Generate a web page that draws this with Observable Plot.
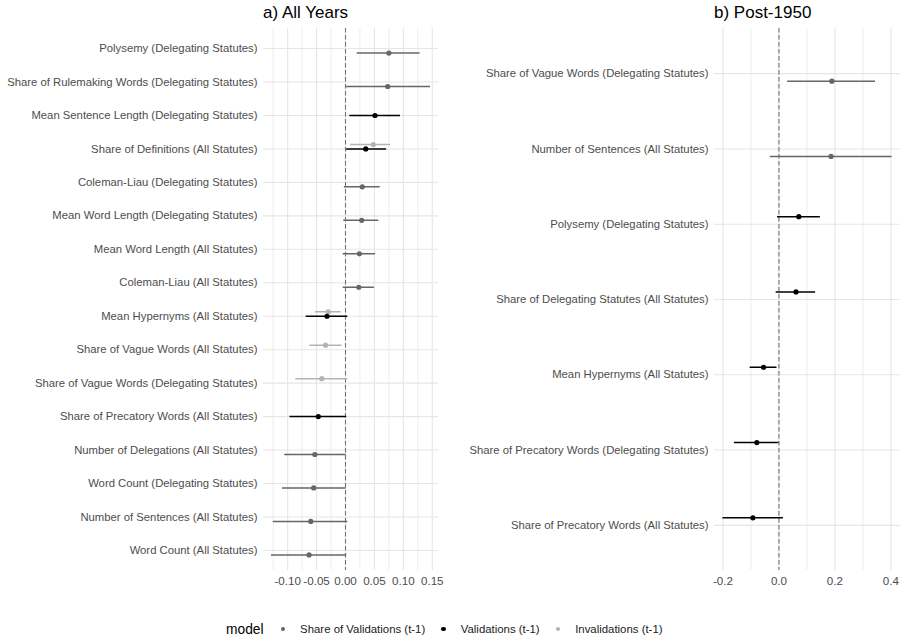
<!DOCTYPE html>
<html><head><meta charset="utf-8">
<script src="https://cdn.jsdelivr.net/npm/d3@7"></script>
<script src="https://cdn.jsdelivr.net/npm/@observablehq/plot@0.6"></script>
<style>
body{margin:0;background:#fff;font-family:"Liberation Sans",Arial,Helvetica,sans-serif;}
#wrap{position:relative;width:907px;height:642px;overflow:hidden;background:#fff;}
.title{position:absolute;top:4px;font-size:17px;line-height:1;color:#000;white-space:nowrap;}
.panel{position:absolute;top:24px;}
#legend{position:absolute;top:618px;left:226px;height:22px;display:flex;align-items:center;font-size:11.4px;color:#1a1a1a;white-space:nowrap;}
#legend .lt{font-size:13.8px;color:#000;margin-right:17px;}
#legend .dot{width:4.5px;height:4.5px;border-radius:50%;margin-right:15px;}
#legend .lab{margin-right:16px;}
</style></head>
<body><div id="wrap"></div>
<script>
// ---- models / legend ----
const modelNames = ["Share of Validations (t-1)", "Validations (t-1)", "Invalidations (t-1)"];
const modelColors = ["#666666", "#000000", "#b3b3b3"];
const legendTitle = "model";

// ---- panel a) All Years ----
const titleA = "a) All Years";
const catsA = [
  "Polysemy (Delegating Statutes)",
  "Share of Rulemaking Words (Delegating Statutes)",
  "Mean Sentence Length (Delegating Statutes)",
  "Share of Definitions (All Statutes)",
  "Coleman-Liau (Delegating Statutes)",
  "Mean Word Length (Delegating Statutes)",
  "Mean Word Length (All Statutes)",
  "Coleman-Liau (All Statutes)",
  "Mean Hypernyms (All Statutes)",
  "Share of Vague Words (All Statutes)",
  "Share of Vague Words (Delegating Statutes)",
  "Share of Precatory Words (All Statutes)",
  "Number of Delegations (All Statutes)",
  "Word Count (Delegating Statutes)",
  "Number of Sentences (All Statutes)",
  "Word Count (All Statutes)"
];
const termA = [0, 1, 2, 3, 3, 4, 5, 6, 7, 8, 8, 9, 10, 11, 12, 13, 14, 15];
const modelA = [0, 0, 1, 2, 1, 0, 0, 0, 0, 2, 1, 2, 2, 1, 0, 0, 0, 0];
const estA  = [0.075, 0.073, 0.051, 0.048, 0.035, 0.029, 0.028, 0.024, 0.023, -0.030, -0.032, -0.0345, -0.041, -0.047, -0.053, -0.055, -0.060, -0.063];
const lowA  = [0.020, 0.002, 0.0075, 0.009, 0.002, -0.002, -0.003, -0.004, -0.004, -0.052, -0.068, -0.0615, -0.086, -0.096, -0.105, -0.109, -0.125, -0.128];
const highA = [0.129, 0.147, 0.095, 0.078, 0.071, 0.060, 0.0575, 0.052, 0.050, -0.0075, 0.004, -0.006, 0.004, 0.002, 0.001, 0.001, 0.004, 0.002];
const ticksA = [-0.10, -0.05, 0, 0.05, 0.10, 0.15];
const minorA = [-0.125, -0.075, -0.025, 0.025, 0.075, 0.125];

// ---- panel b) Post-1950 ----
const titleB = "b) Post-1950";
const catsB = [
  "Share of Vague Words (Delegating Statutes)",
  "Number of Sentences (All Statutes)",
  "Polysemy (Delegating Statutes)",
  "Share of Delegating Statutes (All Statutes)",
  "Mean Hypernyms (All Statutes)",
  "Share of Precatory Words (Delegating Statutes)",
  "Share of Precatory Words (All Statutes)"
];
const termB = [0, 1, 2, 3, 4, 5, 6];
const modelB = [0, 0, 1, 1, 1, 1, 1];
const estB  = [0.189, 0.186, 0.071, 0.061, -0.055, -0.079, -0.093];
const lowB  = [0.031, -0.031, -0.005, -0.010, -0.103, -0.159, -0.200];
const highB = [0.345, 0.404, 0.148, 0.131, -0.007, 0.000, 0.016];
const ticksB = [-0.2, 0, 0.2, 0.4];
const minorB = [-0.1, 0.1, 0.3];

const FONT = '"Liberation Sans",Arial,Helvetica,sans-serif';
const DODGE = 0.4;

function makePanel(cats, term, model, est, low, high, ticks, minor, digits, width, mLeft, mRight) {
  // dodge: groups present, top-to-bottom in reverse legend order
  const present = [...new Set(model)].sort((a, b) => b - a);
  const n = present.length;
  const rows = est.map((e, i) => {
    const k = present.indexOf(model[i]);
    return {
      y: term[i] - DODGE / 2 + DODGE / n * (k + 0.5),
      est: e, low: low[i], high: high[i], model: modelNames[model[i]]
    };
  });
  const lo = d3.min(low), hi = d3.max(high), pad = (hi - lo) * 0.05;
  const nc = cats.length;
  return Plot.plot({
    width, height: 570,
    marginLeft: mLeft, marginRight: mRight, marginTop: 4, marginBottom: 24,
    style: {fontFamily: FONT, fontSize: "11.3px", color: "#4d4d4d", background: "#fff"},
    x: {domain: [lo - pad, hi + pad], label: null},
    y: {domain: [-0.6, nc - 1 + 0.6], reverse: true, label: null},
    color: {domain: modelNames, range: modelColors},
    marks: [
      Plot.ruleX(minor, {stroke: "#e9e9e9", strokeWidth: 0.8}),
      Plot.ruleX(ticks, {stroke: "#e6e6e6", strokeWidth: 1.1}),
      Plot.ruleY(d3.range(nc), {stroke: "#e6e6e6", strokeWidth: 1.1}),
      Plot.ruleX([0], {stroke: "#737373", strokeWidth: 1.1, strokeDasharray: "4.5,2.5"}),
      Plot.ruleY(rows, {y: "y", x1: "low", x2: "high", stroke: "model", strokeWidth: 1.5}),
      Plot.dot(rows, {x: "est", y: "y", fill: "model", r: 2.6, stroke: "none"}),
      Plot.axisX(ticks, {tickSize: 0, tickPadding: 6, tickFormat: d => d.toFixed(digits), label: null, fontSize: 11.6}),
      Plot.axisY(d3.range(nc), {tickSize: 0, tickPadding: 6, tickFormat: i => cats[i], label: null})
    ]
  });
}

const wrap = document.getElementById("wrap");

const pA = makePanel(catsA, termA, modelA, estA, lowA, highA, ticksA, minorA, 2, 445, 263, 7);
pA.classList.add("panel"); pA.style.left = "0px";
wrap.appendChild(pA);

const pB = makePanel(catsB, termB, modelB, estB, lowB, highB, ticksB, minorB, 1, 462, 269, 7);
pB.classList.add("panel"); pB.style.left = "445px";
wrap.appendChild(pB);

for (const [t, left] of [[titleA, 263], [titleB, 714]]) {
  const d = document.createElement("div");
  d.className = "title"; d.style.left = left + "px"; d.textContent = t;
  wrap.appendChild(d);
}

const leg = document.createElement("div");
leg.id = "legend";
const lt = document.createElement("span"); lt.className = "lt"; lt.textContent = legendTitle; leg.appendChild(lt);
modelNames.forEach((m, i) => {
  const dot = document.createElement("span"); dot.className = "dot"; dot.style.background = modelColors[i];
  const lab = document.createElement("span"); lab.className = "lab"; lab.textContent = m;
  leg.appendChild(dot); leg.appendChild(lab);
});
wrap.appendChild(leg);
</script>
</body></html>
